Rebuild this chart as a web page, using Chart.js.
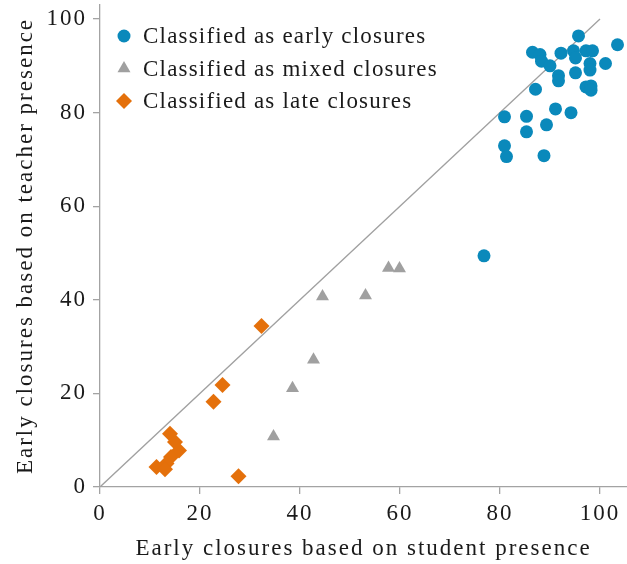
<!DOCTYPE html>
<html>
<head>
<meta charset="utf-8">
<script src="https://cdn.jsdelivr.net/npm/chart.js@4/dist/chart.umd.min.js"></script>
<style>
  html, body { margin: 0; padding: 0; background: #fff; overflow: hidden; }
  canvas { display: block; }
</style>
</head>
<body>
<canvas id="chart" width="627" height="564"></canvas>
<script>
// ── Data (student presence %, teacher presence %) ───────────
var earlyX = [95.7, 86.5, 88.0, 88.3, 90.0, 92.2, 94.7, 95.1, 97.2, 98.5, 103.5, 101.1, 98.0, 98.0,
              91.7, 91.7, 95.1, 87.1, 97.2, 98.2, 98.2, 91.1, 94.2, 80.9, 85.3, 85.3, 89.3, 80.9, 81.3, 88.8, 76.8];
var earlyY = [96.4, 92.9, 92.4, 91.0, 90.0, 92.7, 93.2, 91.7, 93.2, 93.2, 94.5, 90.5, 90.5, 89.1,
              87.9, 86.8, 88.5, 85.0, 85.5, 85.7, 84.8, 80.8, 80.0, 79.1, 79.2, 75.9, 77.4, 72.9, 70.6, 70.8, 49.4];

var mixedX = [57.7, 59.9, 44.5, 53.1, 42.7, 38.5, 34.7];
var mixedY = [46.8, 46.7, 40.7, 40.9, 27.2, 21.1, 10.8];

var lateX = [32.3, 24.5, 22.7, 27.7, 14.0, 15.0, 15.8, 14.2, 13.3, 11.3, 13.0];
var lateY = [34.4, 21.8, 18.2, 2.3, 11.4, 9.6, 7.8, 6.4, 5.0, 4.3, 3.8];

var diagX = [0, 100];
var diagY = [0, 100];

var xTicks = [0, 20, 40, 60, 80, 100];
var yTicks = [0, 20, 40, 60, 80, 100];

var legendLabels = ["Classified as early closures", "Classified as mixed closures", "Classified as late closures"];

function pts(xs, ys) {
  return xs.map(function(x, i) { return { x: x, y: ys[i] }; });
}

var FONT = "'Liberation Serif', serif";
var AXIS = "#a3a3a3";
var TEXT = "#1a1a1a";

// wider letter spacing so Times looks closer to the LaTeX font of the original
var spacing = {
  id: "spacing",
  beforeDraw: function(chart) { chart.ctx.letterSpacing = "2px"; }
};

// ── Legend drawn inside the plot, top-left ─────────────────
var insideLegend = {
  id: "insideLegend",
  afterDraw: function(chart) {
    var ctx = chart.ctx;
    ctx.save();
    ctx.letterSpacing = "1.2px";
    ctx.font = "23px " + FONT;
    ctx.textBaseline = "middle";
    for (var i = 0; i < 3; i++) {
      var ds = chart.data.datasets[i];
      var y = 36 + i * 32.5;
      ctx.fillStyle = ds.backgroundColor;
      ctx.strokeStyle = ds.backgroundColor;
      Chart.helpers.drawPoint(ctx, { pointStyle: ds.pointStyle, radius: ds.pointRadius, rotation: 0, borderWidth: 0 }, 124, y);
      ctx.fillStyle = TEXT;
      ctx.fillText(legendLabels[i], 143, y + 1);
    }
    ctx.restore();
  }
};

function noPad(s) { s.paddingLeft = 0; s.paddingRight = 0; s.paddingTop = 0; s.paddingBottom = 0; }

new Chart(document.getElementById("chart"), {
  type: "scatter",
  data: {
    datasets: [
      { label: legendLabels[0], data: pts(earlyX, earlyY), pointStyle: "circle", pointRadius: 6.5,
        backgroundColor: "#0a89bb", borderWidth: 0, order: 1 },
      { label: legendLabels[1], data: pts(mixedX, mixedY), pointStyle: "triangle", pointRadius: 7.5,
        backgroundColor: "#a0a0a0", borderWidth: 0, order: 1 },
      { label: legendLabels[2], data: pts(lateX, lateY), pointStyle: "rectRot", pointRadius: 8,
        backgroundColor: "#e4700b", borderWidth: 0, order: 1 },
      { type: "line", label: "diag", data: pts(diagX, diagY), borderColor: "#a0a0a0", borderWidth: 1.3,
        pointRadius: 0, fill: false, order: 2 }
    ]
  },
  options: {
    responsive: false,
    animation: false,
    devicePixelRatio: 1,
    layout: { autoPadding: false, padding: { top: 5, right: 0, left: 0, bottom: 0 } },
    plugins: { legend: { display: false }, tooltip: { enabled: false } },
    scales: {
      x: {
        type: "linear", min: 0, max: 105.4,
        afterBuildTicks: function(s) { s.ticks = xTicks.map(function(v) { return { value: v }; }); },
        afterFit: function(s) { s.height = 77; noPad(s); },
        grid: { drawOnChartArea: false, drawTicks: true, tickLength: 7, color: AXIS, lineWidth: 1.3 },
        border: { display: true, color: AXIS, width: 1.3 },
        ticks: { color: TEXT, font: { family: FONT, size: 23 }, padding: 6, maxRotation: 0 },
        title: { display: true, text: "Early closures based on student presence", color: TEXT,
                 font: { family: FONT, size: 23 }, padding: { top: 6, bottom: 1 } }
      },
      y: {
        type: "linear", min: 0, max: 103,
        afterBuildTicks: function(s) { s.ticks = yTicks.map(function(v) { return { value: v }; }); },
        afterFit: function(s) { s.width = 100; noPad(s); },
        grid: { drawOnChartArea: false, drawTicks: true, tickLength: 7, color: AXIS, lineWidth: 1.3 },
        border: { display: true, color: AXIS, width: 1.3 },
        ticks: { color: TEXT, font: { family: FONT, size: 23 }, padding: 6 },
        title: { display: true, text: "Early closures based on teacher presence", color: TEXT,
                 font: { family: FONT, size: 23 }, padding: { bottom: 0, top: 12 } }
      }
    }
  },
  plugins: [spacing, insideLegend]
});
</script>
</body>
</html>
